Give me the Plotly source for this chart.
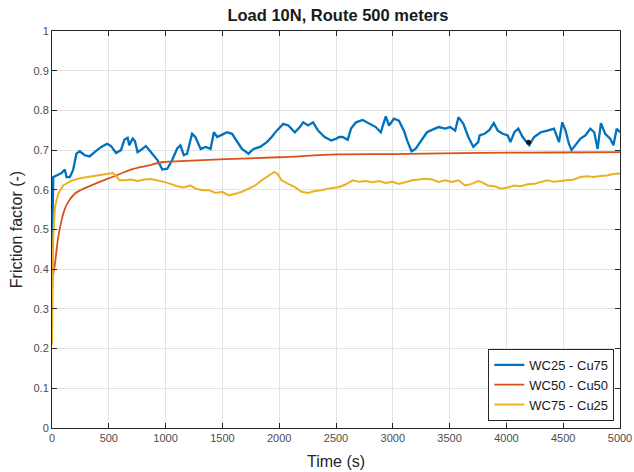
import plotly.graph_objects as go

# ---- data ----
t_blue = [0, 5, 11, 40, 84, 113, 128, 157, 186, 215, 244, 288, 331, 375, 433, 485, 520, 564, 607, 637, 666, 680, 710, 730, 753, 782, 826, 870, 928, 971, 1015, 1058, 1102, 1131, 1160, 1189, 1233, 1262, 1280, 1309, 1353, 1396, 1425, 1454, 1498, 1541, 1585, 1629, 1672, 1730, 1774, 1832, 1891, 1934, 1978, 2036, 2080, 2138, 2182, 2211, 2255, 2298, 2342, 2400, 2458, 2502, 2530, 2559, 2603, 2632, 2676, 2734, 2792, 2850, 2894, 2938, 2967, 3010, 3054, 3098, 3127, 3165, 3200, 3243, 3301, 3345, 3403, 3461, 3505, 3549, 3578, 3621, 3665, 3709, 3752, 3764, 3807, 3851, 3889, 3924, 3968, 4012, 4035, 4070, 4105, 4143, 4201, 4244, 4303, 4361, 4419, 4463, 4492, 4521, 4550, 4573, 4608, 4652, 4695, 4739, 4773, 4803, 4832, 4870, 4913, 4942, 4971, 5000]
y_blue = [0.45, 0.58, 0.632, 0.636, 0.642, 0.651, 0.632, 0.632, 0.650, 0.691, 0.697, 0.687, 0.684, 0.695, 0.708, 0.716, 0.710, 0.693, 0.700, 0.726, 0.731, 0.712, 0.729, 0.723, 0.695, 0.700, 0.710, 0.695, 0.675, 0.651, 0.653, 0.675, 0.704, 0.712, 0.687, 0.691, 0.741, 0.733, 0.720, 0.703, 0.708, 0.703, 0.745, 0.733, 0.739, 0.745, 0.741, 0.720, 0.703, 0.691, 0.703, 0.708, 0.720, 0.733, 0.749, 0.766, 0.762, 0.745, 0.758, 0.770, 0.762, 0.770, 0.749, 0.733, 0.724, 0.729, 0.733, 0.733, 0.726, 0.754, 0.770, 0.776, 0.766, 0.758, 0.745, 0.785, 0.762, 0.779, 0.774, 0.749, 0.724, 0.697, 0.703, 0.720, 0.745, 0.751, 0.758, 0.754, 0.758, 0.749, 0.783, 0.766, 0.733, 0.708, 0.720, 0.737, 0.741, 0.751, 0.768, 0.749, 0.741, 0.737, 0.720, 0.745, 0.754, 0.733, 0.712, 0.733, 0.745, 0.749, 0.754, 0.720, 0.770, 0.749, 0.716, 0.700, 0.712, 0.729, 0.737, 0.754, 0.745, 0.703, 0.768, 0.741, 0.729, 0.712, 0.754, 0.745]

t_orange = [0, 3, 10, 26, 55, 84, 113, 142, 200, 258, 346, 491, 564, 695, 840, 986, 1131, 1277, 1600, 2000, 2516, 3000, 3781, 4400, 5000]
y_orange = [0.30, 0.36, 0.385, 0.414, 0.481, 0.523, 0.552, 0.569, 0.590, 0.600, 0.611, 0.628, 0.636, 0.651, 0.661, 0.670, 0.672, 0.674, 0.678, 0.682, 0.689, 0.690, 0.693, 0.694, 0.695]

t_yellow = [0, 3, 11, 26, 55, 99, 171, 258, 404, 462, 535, 560, 593, 637, 695, 753, 811, 870, 928, 986, 1044, 1102, 1160, 1218, 1265, 1323, 1381, 1440, 1498, 1556, 1614, 1672, 1730, 1789, 1847, 1905, 1957, 1986, 2021, 2080, 2138, 2196, 2255, 2313, 2371, 2429, 2502, 2530, 2588, 2647, 2705, 2763, 2821, 2880, 2938, 2996, 3054, 3112, 3170, 3229, 3287, 3345, 3403, 3461, 3519, 3578, 3636, 3694, 3752, 3778, 3836, 3895, 3953, 4012, 4070, 4128, 4186, 4244, 4303, 4361, 4419, 4477, 4535, 4593, 4652, 4710, 4768, 4826, 4884, 4942, 5000]
y_yellow = [0.21, 0.36, 0.481, 0.556, 0.590, 0.611, 0.623, 0.630, 0.636, 0.640, 0.642, 0.636, 0.624, 0.624, 0.626, 0.622, 0.626, 0.627, 0.624, 0.620, 0.615, 0.609, 0.606, 0.611, 0.603, 0.599, 0.599, 0.592, 0.595, 0.586, 0.590, 0.595, 0.603, 0.611, 0.624, 0.636, 0.645, 0.640, 0.624, 0.615, 0.607, 0.595, 0.592, 0.597, 0.599, 0.603, 0.607, 0.607, 0.614, 0.624, 0.620, 0.622, 0.619, 0.622, 0.617, 0.620, 0.615, 0.620, 0.624, 0.626, 0.628, 0.626, 0.620, 0.624, 0.620, 0.624, 0.611, 0.615, 0.622, 0.620, 0.611, 0.609, 0.603, 0.606, 0.611, 0.609, 0.614, 0.615, 0.620, 0.624, 0.620, 0.622, 0.624, 0.626, 0.632, 0.634, 0.632, 0.635, 0.636, 0.640, 0.641]

marker_t = [4195]
marker_y = [0.72]

names = ["WC25 - Cu75", "WC50 - Cu50", "WC75 - Cu25"]
colors = ["#0072BD", "#D95319", "#EDB120"]

x_ticks = [0, 500, 1000, 1500, 2000, 2500, 3000, 3500, 4000, 4500, 5000]
y_ticks = [0, 0.1, 0.2, 0.3, 0.4, 0.5, 0.6, 0.7, 0.8, 0.9, 1]
y_tick_text = ["0", "0.1", "0.2", "0.3", "0.4", "0.5", "0.6", "0.7", "0.8", "0.9", "1"]

FONT = "Liberation Sans, Arial"

fig = go.Figure()
fig.add_trace(go.Scatter(x=t_blue, y=y_blue, mode="lines", name=names[0],
                         line=dict(color=colors[0], width=2.3)))
fig.add_trace(go.Scatter(x=t_orange, y=y_orange, mode="lines", name=names[1],
                         line=dict(color=colors[1], width=1.8, shape="spline")))
fig.add_trace(go.Scatter(x=t_yellow, y=y_yellow, mode="lines", name=names[2],
                         line=dict(color=colors[2], width=2)))
fig.add_trace(go.Scatter(x=marker_t, y=marker_y, mode="markers", showlegend=False,
                         marker=dict(color="#111111", size=5)))

axis_common = dict(
    showgrid=True, gridcolor="#e3e3e3", gridwidth=1,
    showline=True, linecolor="#262626", linewidth=1, mirror="ticks",
    ticks="inside", ticklen=5, tickcolor="#262626",
    tickfont=dict(family=FONT, size=11, color="#4d4d4d"),
    zeroline=False, ticklabeloverflow="allow", automargin=False,
)

fig.update_layout(
    width=634, height=472,
    margin=dict(l=52, r=14, t=31, b=44),
    paper_bgcolor="white", plot_bgcolor="white",
    title=dict(text="<b>Load 10N, Route 500 meters</b>", x=0.533, xanchor="center",
               y=0.968, yanchor="middle",
               font=dict(family=FONT, size=16.5, color="#1a1a1a")),
    xaxis=dict(range=[0, 5000], tickvals=x_ticks,
               title=dict(text="Time (s)", font=dict(family=FONT, size=16, color="#262626"), standoff=12),
               **axis_common),
    yaxis=dict(range=[0, 1], tickvals=y_ticks, ticktext=y_tick_text,
               title=dict(text="Friction factor (-)", font=dict(family=FONT, size=16, color="#262626"), standoff=6),
               **axis_common),
    legend=dict(x=0.99, y=0.018, xanchor="right", yanchor="bottom",
                bgcolor="white", bordercolor="#262626", borderwidth=1,
                font=dict(family=FONT, size=13, color="#1a1a1a"),
                tracegroupgap=0, itemwidth=30),
    showlegend=True,
)

fig.write_html("out.html")
